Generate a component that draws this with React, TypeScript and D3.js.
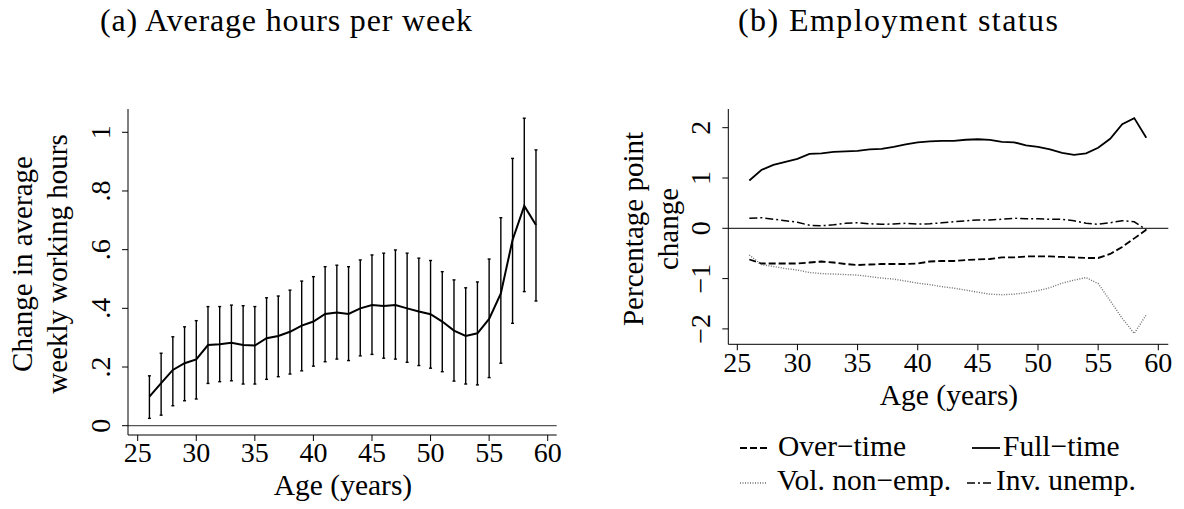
import * as d3 from 'd3'

// ages on the horizontal axis
const ages = d3.range(26, 60)

// panel (a): change in average weekly hours, with confidence bounds
const hoursEst = [
  0.099, 0.145, 0.19, 0.213, 0.226, 0.275, 0.278, 0.283, 0.275, 0.273, 0.298, 0.306, 0.32,
  0.341, 0.355, 0.381, 0.386, 0.381, 0.4, 0.411, 0.408, 0.411, 0.4, 0.389, 0.38, 0.355,
  0.324, 0.306, 0.315, 0.364, 0.451, 0.633, 0.749, 0.684,
]
const hoursHi = [
  0.17, 0.247, 0.303, 0.337, 0.358, 0.406, 0.406, 0.411, 0.409, 0.406, 0.436, 0.442, 0.462,
  0.493, 0.508, 0.542, 0.547, 0.542, 0.565, 0.582, 0.588, 0.599, 0.588, 0.571, 0.563, 0.525,
  0.497, 0.47, 0.49, 0.568, 0.709, 0.911, 1.048, 0.94,
]
const hoursLo = [
  0.025, 0.036, 0.068, 0.085, 0.091, 0.144, 0.15, 0.153, 0.142, 0.142, 0.158, 0.167, 0.176,
  0.187, 0.203, 0.218, 0.227, 0.222, 0.238, 0.243, 0.23, 0.227, 0.216, 0.205, 0.196, 0.184,
  0.152, 0.142, 0.139, 0.164, 0.213, 0.349, 0.457, 0.425,
]

// panel (b): employment status, percentage point change
const overTime = [
  -0.62, -0.7, -0.7, -0.7, -0.7, -0.68, -0.66, -0.68, -0.71, -0.73, -0.72, -0.71, -0.71,
  -0.71, -0.7, -0.66, -0.65, -0.65, -0.63, -0.62, -0.61, -0.58, -0.58, -0.56, -0.56, -0.56,
  -0.57, -0.58, -0.59, -0.59, -0.51, -0.37, -0.2, -0.03,
]
const fullTime = [
  0.95, 1.16, 1.26, 1.32, 1.38, 1.48, 1.49, 1.52, 1.53, 1.54, 1.57, 1.58, 1.62, 1.67, 1.71,
  1.73, 1.74, 1.74, 1.76, 1.77, 1.76, 1.72, 1.71, 1.65, 1.62, 1.57, 1.5, 1.46, 1.49, 1.6,
  1.78, 2.07, 2.19, 1.8,
]
const volNonEmp = [
  -0.53, -0.72, -0.76, -0.8, -0.83, -0.88, -0.9, -0.91, -0.92, -0.93, -0.96, -0.99, -1.01,
  -1.05, -1.09, -1.12, -1.16, -1.19, -1.23, -1.27, -1.31, -1.32, -1.31, -1.28, -1.24, -1.18,
  -1.09, -1.03, -0.98, -1.1, -1.44, -1.79, -2.09, -1.72,
]
const invUnemp = [
  0.2, 0.21, 0.18, 0.15, 0.12, 0.06, 0.05, 0.07, 0.1, 0.11, 0.09, 0.08, 0.085, 0.1, 0.085,
  0.09, 0.11, 0.13, 0.15, 0.165, 0.165, 0.18, 0.2, 0.19, 0.19, 0.18, 0.18, 0.15, 0.1, 0.08,
  0.11, 0.15, 0.13, -0.03,
]

const xTicks = [25, 30, 35, 40, 45, 50, 55, 60]
const hoursTicks = [0, 0.2, 0.4, 0.6, 0.8, 1]
const hoursTickLabels = ['0', '.2', '.4', '.6', '.8', '1']
const pctTicks = [-2, -1, 0, 1, 2]
const pctTickLabels = ['\u22122', '\u22121', '0', '1', '2']

const serif = '"Liberation Serif", "Times New Roman", serif'

type Series = { label: string; values: number[]; dash: string; color: string; width: number }

const statusSeries: Series[] = [
  { label: 'Over\u2212time', values: overTime, dash: '7,3', color: '#000', width: 1.8 },
  { label: 'Full\u2212time', values: fullTime, dash: '', color: '#000', width: 1.8 },
  { label: 'Vol. non\u2212emp.', values: volNonEmp, dash: '1,1.5', color: '#6e6e6e', width: 1.4 },
  { label: 'Inv. unemp.', values: invUnemp, dash: '8,3,2,3', color: '#000', width: 1.5 },
]

const HoursPanel = () => {
  const x = d3.scaleLinear().domain([25, 60]).range([137.7, 547.7])
  const y = d3.scaleLinear().domain([0, 1]).range([425.7, 132.3])
  const left = 128
  const right = 556.7
  const top = 109
  const bottom = 435
  const line = d3
    .line<number>()
    .x((_, i) => x(ages[i]))
    .y(d => y(d))

  return (
    <g>
      <line x1={left} x2={right} y1={y(0)} y2={y(0)} stroke="#555" strokeWidth={1.2} />
      {ages.map((a, i) => (
        <g key={a} stroke="#000" strokeWidth={1.4}>
          <line x1={x(a)} x2={x(a)} y1={y(hoursLo[i])} y2={y(hoursHi[i])} />
          <line x1={x(a) - 1.5} x2={x(a) + 1.5} y1={y(hoursLo[i])} y2={y(hoursLo[i])} />
          <line x1={x(a) - 1.5} x2={x(a) + 1.5} y1={y(hoursHi[i])} y2={y(hoursHi[i])} />
        </g>
      ))}
      <path d={line(hoursEst) ?? ''} fill="none" stroke="#000" strokeWidth={2} />

      <line x1={left} x2={left} y1={top} y2={bottom} stroke="#000" strokeWidth={1} />
      <line x1={left} x2={right} y1={bottom} y2={bottom} stroke="#000" strokeWidth={1} />
      {hoursTicks.map((t, i) => (
        <g key={t}>
          <line x1={left - 6} x2={left} y1={y(t)} y2={y(t)} stroke="#000" />
          <text
            transform={`translate(110,${y(t)}) rotate(-90)`}
            textAnchor="middle"
            fontSize={28}
          >
            {hoursTickLabels[i]}
          </text>
        </g>
      ))}
      {xTicks.map(t => (
        <g key={t}>
          <line x1={x(t)} x2={x(t)} y1={bottom} y2={bottom + 6} stroke="#000" />
          <text x={x(t)} y={461.5} textAnchor="middle" fontSize={28}>
            {t}
          </text>
        </g>
      ))}
      <text x={343} y={495} textAnchor="middle" fontSize={29.5}>
        Age (years)
      </text>
      <text transform="translate(32,264) rotate(-90)" textAnchor="middle" fontSize={29}>
        Change in average
      </text>
      <text transform="translate(67,264) rotate(-90)" textAnchor="middle" fontSize={29}>
        weekly working hours
      </text>
    </g>
  )
}

const StatusPanel = () => {
  const x = d3.scaleLinear().domain([25, 60]).range([737.3, 1158.3])
  const y = d3.scaleLinear().domain([-2, 2]).range([328.9, 127.7])
  const left = 728.3
  const right = 1168.3
  const top = 109
  const bottom = 344.3
  const line = d3
    .line<number>()
    .x((_, i) => x(ages[i]))
    .y(d => y(d))

  // legend keys, two columns
  const legend = [
    { s: statusSeries[0], kx: [740, 767], tx: 778, ky: 448, ty: 456 },
    { s: statusSeries[1], kx: [972, 1000], tx: 1003, ky: 448, ty: 456 },
    { s: statusSeries[2], kx: [740, 767], tx: 777, ky: 483, ty: 490 },
    { s: statusSeries[3], kx: [967, 991], tx: 996, ky: 483, ty: 490 },
  ]

  return (
    <g>
      <line x1={left} x2={right} y1={y(0)} y2={y(0)} stroke="#000" strokeWidth={1} />
      {statusSeries.map(s => (
        <path
          key={s.label}
          d={line(s.values) ?? ''}
          fill="none"
          stroke={s.color}
          strokeWidth={s.width}
          strokeDasharray={s.dash || undefined}
        />
      ))}

      <line x1={left} x2={left} y1={top} y2={bottom} stroke="#000" strokeWidth={1} />
      <line x1={left} x2={right} y1={bottom} y2={bottom} stroke="#000" strokeWidth={1} />
      {pctTicks.map((t, i) => (
        <g key={t}>
          <line x1={left - 6} x2={left} y1={y(t)} y2={y(t)} stroke="#000" />
          <text
            transform={`translate(710,${y(t)}) rotate(-90)`}
            textAnchor="middle"
            fontSize={28}
          >
            {pctTickLabels[i]}
          </text>
        </g>
      ))}
      {xTicks.map(t => (
        <g key={t}>
          <line x1={x(t)} x2={x(t)} y1={bottom} y2={bottom + 6} stroke="#000" />
          <text x={x(t)} y={371.5} textAnchor="middle" fontSize={28}>
            {t}
          </text>
        </g>
      ))}
      <text x={949} y={405} textAnchor="middle" fontSize={29.5}>
        Age (years)
      </text>
      <text transform="translate(643,229) rotate(-90)" textAnchor="middle" fontSize={29}>
        Percentage point
      </text>
      <text transform="translate(678,229) rotate(-90)" textAnchor="middle" fontSize={29}>
        change
      </text>

      {legend.map(({ s, kx, tx, ky, ty }) => (
        <g key={s.label}>
          <line
            x1={kx[0]}
            x2={kx[1]}
            y1={ky}
            y2={ky}
            stroke={s.color}
            strokeWidth={s.width}
            strokeDasharray={s.dash || undefined}
          />
          <text x={tx} y={ty} fontSize={29.5}>
            {s.label}
          </text>
        </g>
      ))}
    </g>
  )
}

export default function App() {
  return (
    <svg
      width={1184}
      height={509}
      style={{ position: 'absolute', left: 0, top: 0, background: '#fff' }}
      fontFamily={serif}
    >
      <rect width={1184} height={509} fill="#fff" />
      <text x={100} y={31} fontSize={32} textLength={372} lengthAdjust="spacing">
        (a) Average hours per week
      </text>
      <text x={738} y={31} fontSize={32} textLength={320} lengthAdjust="spacing">
        (b) Employment status
      </text>
      <HoursPanel />
      <StatusPanel />
    </svg>
  )
}
